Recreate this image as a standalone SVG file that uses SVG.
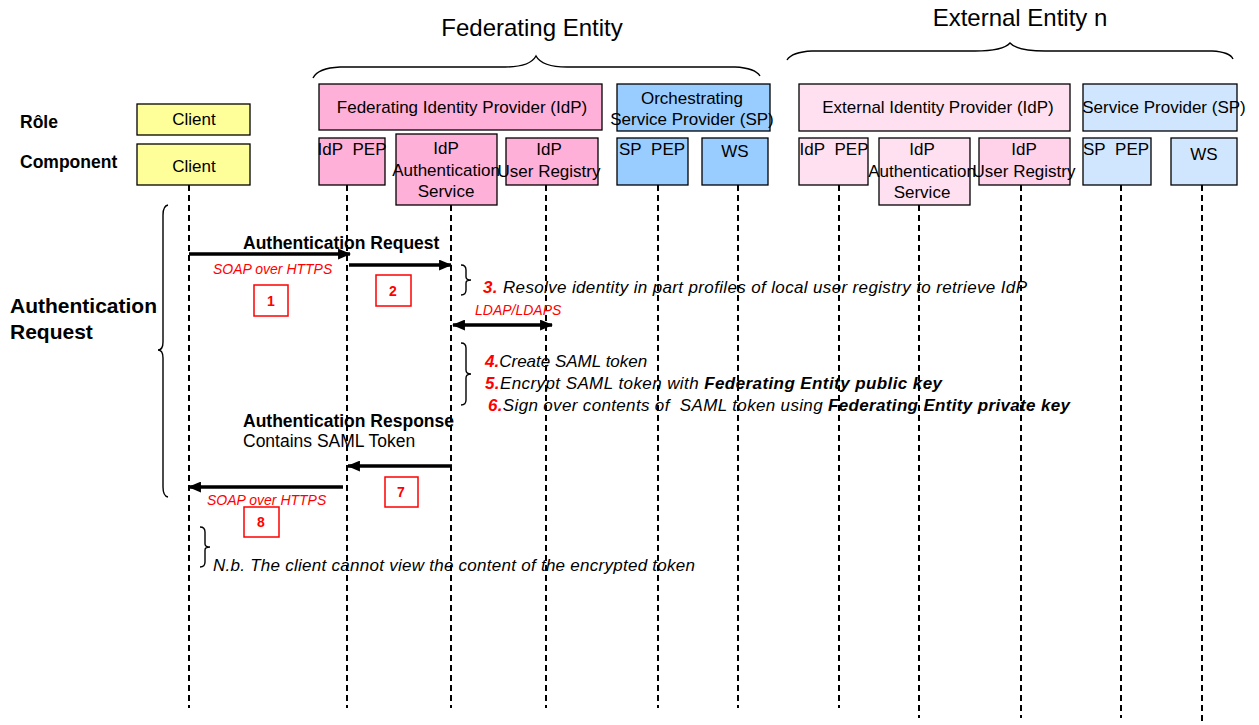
<svg xmlns="http://www.w3.org/2000/svg" width="1259" height="725" viewBox="0 0 1259 725">
<defs>
<marker id="ah" viewBox="0 0 12 10" refX="11" refY="5" markerWidth="13" markerHeight="11" markerUnits="userSpaceOnUse" orient="auto-start-reverse">
<path d="M0,0 L12,5 L0,10 Z" fill="#000"/>
</marker>
<style>
text{font-family:"Liberation Sans",Arial,sans-serif;fill:#000}
.box{stroke:#000;stroke-width:1.3}
.cl{fill:#FFFF99}
.fp{fill:#FFB0D8}
.fb{fill:#99CCFF}
.ep{fill:#FFE0F0}
.er{fill:#FFD2EA}
.eb{fill:#D0E6FF}
.t16{font-size:17px}
.mid{text-anchor:middle}
.life{stroke:#000;stroke-width:2;stroke-dasharray:6 4;fill:none}
.msg{stroke:#000;stroke-width:3.5;fill:none}
.brace{stroke:#000;stroke-width:1.4;fill:none}
.red{fill:#FF0000}
.rbox{fill:#fff;stroke:#FF0000;stroke-width:1.5}
.it{font-style:italic;font-size:17px}
.lab{font-weight:bold;font-size:17.5px}
.sm{font-size:14px;font-style:italic}
.num{font-size:14px;font-weight:bold}
</style>
</defs>

<text x="532" y="36" class="mid" style="font-size:24px">Federating Entity</text>
<text x="1020" y="26" class="mid" style="font-size:24px">External Entity n</text>
<path class="brace" d="M313,78 Q318,68 340,67 L505,67 Q530,67 536,56 Q542,67 567,67 L735,67 Q755,68 760,76"/>
<path class="brace" d="M787,60 Q792,52 812,51 L975,51 Q1003,51 1010,43 Q1017,51 1045,51 L1212,51 Q1230,52 1233,59"/>

<text x="20" y="128" style="font-size:17.5px;font-weight:bold">Rôle</text>
<text x="20" y="168" style="font-size:17.5px;font-weight:bold">Component</text>

<g id="client-role"><rect class="box cl" x="137" y="104" width="113" height="31"/><text x="194" y="125" class="t16 mid">Client</text></g>
<g id="client"><rect class="box cl" x="137" y="144" width="113" height="41"/><text x="194" y="172" class="t16 mid">Client</text></g>

<g id="fed-idp"><rect class="box fp" x="319" y="84" width="283" height="46"/><text x="462" y="113" class="t16 mid">Federating Identity Provider (IdP)</text></g>
<g id="orch-sp"><rect class="box fb" x="617" y="84" width="153" height="47"/><text x="692" y="104" class="t16 mid">Orchestrating</text><text x="692" y="125" class="t16 mid">Service Provider (SP)</text></g>
<g id="fed-idp-pep"><rect class="box fp" x="319" y="138" width="66" height="47"/><text x="352" y="155" class="t16 mid">IdP&#160; PEP</text></g>
<g id="fed-idp-auth"><rect class="box fp" x="396" y="134" width="101" height="71"/><text x="446" y="154" class="t16 mid">IdP</text><text x="446" y="176" class="t16 mid">Authentication</text><text x="446" y="197" class="t16 mid">Service</text></g>
<g id="fed-idp-ur"><rect class="box fp" x="506" y="138" width="92" height="47"/><text x="549" y="155" class="t16 mid">IdP</text><text x="549" y="177" class="t16 mid">User Registry</text></g>
<g id="fed-sp-pep"><rect class="box fb" x="617" y="138" width="71" height="47"/><text x="652" y="155" class="t16 mid">SP&#160; PEP</text></g>
<g id="fed-ws"><rect class="box fb" x="702" y="138" width="66" height="47"/><text x="735" y="157" class="t16 mid">WS</text></g>

<g id="ext-idp"><rect class="box ep" x="799" y="84" width="271" height="47"/><text x="938" y="113" class="t16 mid">External Identity Provider (IdP)</text></g>
<g id="ext-sp"><rect class="box eb" x="1083" y="84" width="154" height="47"/><text x="1164" y="113" class="t16 mid">Service Provider (SP)</text></g>
<g id="ext-idp-pep"><rect class="box ep" x="799" y="138" width="69" height="47"/><text x="834" y="155" class="t16 mid">IdP&#160; PEP</text></g>
<g id="ext-idp-auth"><rect class="box ep" x="879" y="138" width="91" height="67"/><text x="922" y="155" class="t16 mid">IdP</text><text x="922" y="177" class="t16 mid">Authentication</text><text x="922" y="198" class="t16 mid">Service</text></g>
<g id="ext-idp-ur"><rect class="box er" x="979" y="138" width="91" height="47"/><text x="1024" y="155" class="t16 mid">IdP</text><text x="1024" y="177" class="t16 mid">User Registry</text></g>
<g id="ext-sp-pep"><rect class="box eb" x="1083" y="138" width="68" height="47"/><text x="1116" y="155" class="t16 mid">SP&#160; PEP</text></g>
<g id="ext-ws"><rect class="box eb" x="1171" y="138" width="66" height="47"/><text x="1204" y="160" class="t16 mid">WS</text></g>

<g id="lifelines">
<line class="life" x1="189" y1="185" x2="189" y2="708"/>
<line class="life" x1="347" y1="185" x2="347" y2="708"/>
<line class="life" x1="451" y1="205" x2="451" y2="708"/>
<line class="life" x1="546" y1="185" x2="546" y2="708"/>
<line class="life" x1="658" y1="185" x2="658" y2="708"/>
<line class="life" x1="738" y1="185" x2="738" y2="708"/>
<line class="life" x1="839" y1="185" x2="839" y2="708"/>
<line class="life" x1="919" y1="205" x2="919" y2="718"/>
<line class="life" x1="1021" y1="185" x2="1021" y2="718"/>
<line class="life" x1="1121" y1="185" x2="1121" y2="718"/>
<line class="life" x1="1202" y1="185" x2="1202" y2="722"/>
</g>

<g id="connectors">
<line class="msg" x1="189" y1="254" x2="350" y2="254" marker-end="url(#ah)"/>
<line class="msg" x1="349" y1="265" x2="451" y2="265" marker-end="url(#ah)"/>
<line class="msg" x1="453" y1="325" x2="552" y2="325" marker-start="url(#ah)" marker-end="url(#ah)"/>
<line class="msg" x1="452" y1="466" x2="348" y2="466" marker-end="url(#ah)"/>
<line class="msg" x1="343" y1="487" x2="189" y2="487" marker-end="url(#ah)"/>
</g>

<g id="braces">
<path class="brace" d="M168,205 Q163,206 163,215 L163,342 Q163,350 158,350 Q163,350 163,358 L163,487 Q163,496 168,497"/>
<path class="brace" d="M461,265 Q466,265 466,270 L466,277 Q466,280 471,280 Q466,280 466,283 L466,290 Q466,295 461,295"/>
<path class="brace" d="M461,343 Q466,343 466,348 L466,370 Q466,374 471,374 Q466,374 466,378 L466,400 Q466,405 461,405"/>
<path class="brace" d="M200,527 Q205,527 205,532 L205,544 Q205,547 210,547 Q205,547 205,550 L205,562 Q205,567 200,567"/>
</g>

<text x="10" y="313" style="font-size:21px;font-weight:bold">Authentication</text>
<text x="10" y="339" style="font-size:21px;font-weight:bold">Request</text>

<text x="243" y="249" class="lab">Authentication Request</text>
<text x="213" y="274" class="red sm">SOAP over HTTPS</text>
<g id="step1"><rect class="rbox" x="254" y="285" width="34" height="31"/><text x="271" y="306" class="mid red num">1</text></g>
<g id="step2"><rect class="rbox" x="376" y="275" width="35" height="31"/><text x="393" y="296" class="mid red num">2</text></g>

<text x="483" y="293" class="it" textLength="544"><tspan class="red" style="font-weight:bold">3.</tspan> Resolve identity in part profiles of local user registry to retrieve IdP</text>
<text x="475" y="315" class="red sm">LDAP/LDAPS</text>

<text x="485" y="367" class="it"><tspan class="red" style="font-weight:bold">4.</tspan>Create SAML token</text>
<text x="485" y="389" class="it" textLength="457"><tspan class="red" style="font-weight:bold">5.</tspan>Encrypt SAML token with <tspan style="font-weight:bold">Federating Entity public key</tspan></text>
<text x="488" y="411" class="it" textLength="582"><tspan class="red" style="font-weight:bold">6.</tspan>Sign over contents of&#160; SAML token using <tspan style="font-weight:bold">Federating Entity private key</tspan></text>

<text x="243" y="427" class="lab">Authentication Response</text>
<text x="243" y="447" style="font-size:17.5px">Contains SAML Token</text>

<g id="step7"><rect class="rbox" x="385" y="477" width="33" height="30"/><text x="401" y="497" class="mid red num">7</text></g>
<text x="207" y="505" class="red sm">SOAP over HTTPS</text>
<g id="step8"><rect class="rbox" x="244" y="507" width="35" height="30"/><text x="261" y="527" class="mid red num">8</text></g>

<text x="213" y="571" class="it" textLength="482">N.b. The client cannot view the content of the encrypted token</text>
</svg>
